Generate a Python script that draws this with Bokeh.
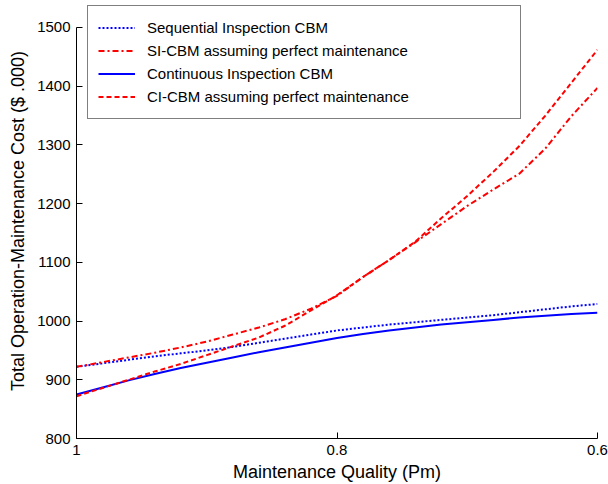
from bokeh.plotting import figure
from bokeh.models import Range1d, FixedTicker, Legend, LegendItem
from bokeh.embed import file_html
from bokeh.resources import INLINE

# Maintenance quality (x axis, reversed)
pm = [1.00, 0.98, 0.96, 0.94, 0.92, 0.90, 0.88, 0.86, 0.84, 0.82, 0.80,
      0.78, 0.76, 0.74, 0.72, 0.70, 0.68, 0.66, 0.64, 0.62, 0.60]

# Total operation-maintenance cost ($ .000)
si_cbm = [922, 928, 934, 940, 945, 950, 956, 963, 970, 977, 984,
          989, 994, 998, 1002, 1006, 1010, 1015, 1020, 1025, 1029]
si_perfect = [922, 930, 938, 946, 955, 965, 977, 989, 1003, 1021, 1043,
              1075, 1104, 1134, 1165, 1196, 1224, 1251, 1294, 1349, 1397]
ci_cbm = [875, 887, 899, 910, 920, 929, 938, 947, 955, 963, 971,
          978, 984, 989, 994, 998, 1002, 1006, 1009, 1012, 1014]
ci_perfect = [872, 886, 900, 914, 927, 942, 957, 972, 992, 1018, 1044,
              1075, 1104, 1135, 1175, 1213, 1254, 1298, 1350, 1406, 1462]

x_ticks = [1.0, 0.8, 0.6]
x_tick_labels = ["1", "0.8", "0.6"]
y_ticks = [800, 900, 1000, 1100, 1200, 1300, 1400, 1500]

labels = ["Sequential Inspection CBM",
          "SI-CBM assuming perfect maintenance",
          "Continuous Inspection CBM",
          "CI-CBM assuming perfect maintenance"]

FONT = "Liberation Sans"
BLUE = "#0000ff"
RED = "#ff0000"

W, H = 608, 484
TOP, BOTTOM, LEFT, RIGHT = 3, 45, 76, 11
frame_h = H - TOP - BOTTOM
axis_px = frame_h - (27 - TOP)   # 1500 sits at y=27 in the picture
y_lo, y_hi = 800, 1500
y_end = y_lo + (y_hi - y_lo) * frame_h / axis_px

p = figure(width=W, height=H, output_backend="svg", toolbar_location=None,
           x_range=Range1d(1.0, 0.6), y_range=Range1d(y_lo, y_end),
           min_border_left=LEFT, min_border_right=RIGHT, min_border_top=TOP,
           min_border_bottom=BOTTOM)
p.outline_line_color = None
p.xgrid.visible = False
p.ygrid.visible = False
p.background_fill_color = "white"
p.border_fill_color = "white"

r1 = p.line(pm, si_cbm, line_color=BLUE, line_width=2, line_dash="2 2")
r2 = p.line(pm, si_perfect, line_color=RED, line_width=2, line_dash="6 3 2 3")
r3 = p.line(pm, ci_cbm, line_color=BLUE, line_width=2)
r4 = p.line(pm, ci_perfect, line_color=RED, line_width=2, line_dash="5 3")

for ax in (p.xaxis[0], p.yaxis[0]):
    ax.axis_line_color = "black"
    ax.axis_line_width = 1
    ax.major_tick_line_color = "black"
    ax.major_tick_in = 6
    ax.major_tick_out = 0
    ax.minor_tick_line_color = None
    ax.major_label_text_font = FONT
    ax.major_label_text_font_size = "15px"
    ax.major_label_text_color = "black"
    ax.axis_label_text_font = FONT
    ax.axis_label_text_font_size = "18px"
    ax.axis_label_text_font_style = "normal"
    ax.axis_label_text_color = "black"
    ax.major_label_standoff = 6

p.yaxis.bounds = (y_lo, y_hi)
p.xaxis.ticker = FixedTicker(ticks=x_ticks)
p.xaxis.major_label_overrides = {t: l for t, l in zip(x_ticks, x_tick_labels)}
p.yaxis.ticker = FixedTicker(ticks=y_ticks)
p.xaxis.axis_label = "Maintenance Quality (Pm)"
p.yaxis.axis_label = "Total Operation-Maintenance Cost ($ .000)"
p.xaxis.axis_label_standoff = 4
p.yaxis.axis_label_standoff = 6

legend = Legend(items=[LegendItem(label=l, renderers=[r]) for l, r in zip(labels, [r1, r2, r3, r4])],
                location=(11, 319), padding=10, spacing=0, margin=0,
                glyph_width=37, glyph_height=23, label_height=23, label_width=363,
                label_standoff=12, label_text_font=FONT, label_text_font_size="15px",
                label_text_color="black", border_line_color="black", border_line_width=1,
                background_fill_color="white", background_fill_alpha=1.0)
p.add_layout(legend)

open("out.html", "w").write(file_html(p, INLINE))
